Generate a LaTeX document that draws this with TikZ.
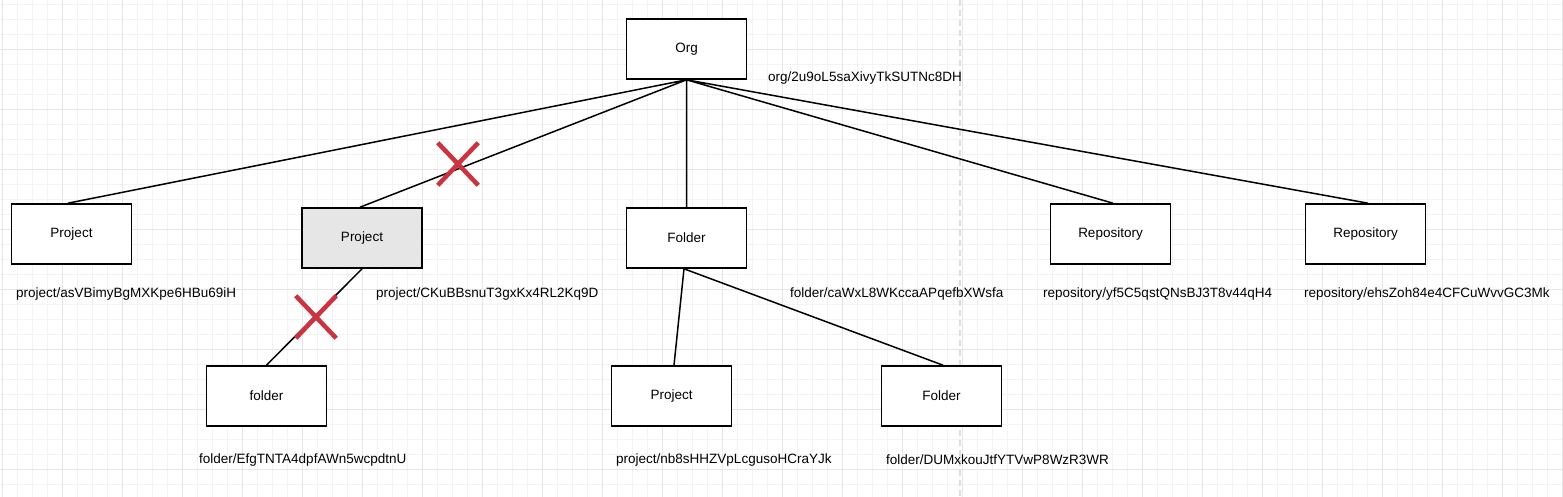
\documentclass[tikz,border=0pt]{standalone}
\usepackage{fontspec}
\setmainfont{Liberation Sans}
\usetikzlibrary{shapes.misc}

\definecolor{gridminor}{HTML}{F3F3F3}
\definecolor{gridmajor}{HTML}{E6E6E6}
\definecolor{pagebreak}{HTML}{DDDDDD}
\definecolor{cutred}{HTML}{CC3340}
\definecolor{grayfill}{HTML}{E6E6E6}

\begin{document}
\begin{tikzpicture}[x=1pt,y=-1pt,
    box/.style={draw=black,line width=1.6pt,fill=white,minimum width=120pt,minimum height=60pt,inner sep=0pt},
    cut/.style={cross out,draw=cutred,line width=4.5pt,minimum width=36pt,minimum height=38pt,inner sep=0pt},
    ident/.style={anchor=west,inner sep=0pt},
    font=\fontsize{13.5}{16}\selectfont]
    \useasboundingbox (0,0) rectangle (1563,497);
    \fill[white] (0,0) rectangle (1563,497);
    % background grid
    \foreach \gx in {2,17,...,1562} \draw[gridminor,line width=0.8pt] (\gx,0) -- (\gx,497);
    \foreach \gy in {4,19,...,496} \draw[gridminor,line width=0.8pt] (0,\gy) -- (1563,\gy);
    \foreach \gx in {2,62,...,1562} \draw[gridmajor,line width=0.8pt] (\gx,0) -- (\gx,497);
    \foreach \gy in {49,109,...,496} \draw[gridmajor,line width=0.8pt] (0,\gy) -- (1563,\gy);
    \draw[pagebreak,line width=2pt,dash pattern=on 6pt off 4pt] (960,0) -- (960,497);

    \draw (686.5,49)  node[box] (org) {Org};
    \draw (71.5,234)  node[box] (proja) {Project};
    \draw (362,238)   node[box,fill=grayfill] (projb) {Project};
    \draw (686.5,238) node[box] (fold) {Folder};
    \draw (1110.5,234) node[box] (repoa) {Repository};
    \draw (1365.5,234) node[box] (repob) {Repository};
    \draw (266.5,396) node[box] (foldb) {folder};
    \draw (671.5,396) node[box] (projc) {Project};
    \draw (941.5,396) node[box] (foldc) {Folder};

    \node[ident] at (768,78)  {org/2u9oL5saXivyTkSUTNc8DH};
    \node[ident] at (16,294)  {project/asVBimyBgMXKpe6HBu69iH};
    \node[ident] at (376,294) {project/CKuBBsnuT3gxKx4RL2Kq9D};
    \node[ident] at (790,294) {folder/caWxL8WKccaAPqefbXWsfa};
    \node[ident] at (1043,294) {repository/yf5C5qstQNsBJ3T8v44qH4};
    \node[ident] at (1304,294) {repository/ehsZoh84e4CFCuWvvGC3Mk};
    \node[ident] at (199,460) {folder/EfgTNTA4dpfAWn5wcpdtnU};
    \node[ident] at (616,460) {project/nb8sHHZVpLcgusoHCraYJk};
    \node[ident] at (886,460) {folder/DUMxkouJtfYTVwP8WzR3WR};

    \draw[line width=1.5pt] (org.south) -- ([xshift=-3.5pt]proja.north)
          (org.south) -- ([xshift=-2pt]projb.north)
          (org.south) -- (fold.north)
          (org.south) -- ([xshift=2.5pt]repoa.north)
          (org.south) -- ([xshift=2.5pt]repob.north)
          (projb.south) -- (foldb.north)
          ([xshift=-2.5pt]fold.south) -- ([xshift=2.5pt]projc.north)
          ([xshift=-2.5pt]fold.south) -- ([xshift=1.5pt]foldc.north);

    \node[cut] (cuta) at (458,164) {};
    \node[cut] (cutb) at (316,317) {};
\end{tikzpicture}
\end{document}
